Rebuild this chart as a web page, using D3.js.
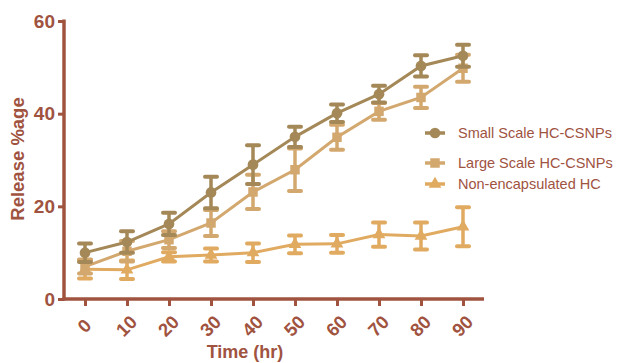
<!DOCTYPE html>
<html>
<head>
<meta charset="utf-8">
<script src="https://cdn.jsdelivr.net/npm/d3@7/dist/d3.min.js"></script>
<style>
  html, body { margin: 0; padding: 0; background: #fff; }
  svg { display: block; }
  text { font-family: "Liberation Sans", Arial, sans-serif; }
</style>
</head>
<body>
<svg id="chart" width="631" height="363"></svg>
<script>
const times = [0, 10, 20, 30, 40, 50, 60, 70, 80, 90];
const yTicks = [0, 20, 40, 60];
const seriesNames = ["Small Scale HC-CSNPs", "Large Scale HC-CSNPs", "Non-encapsulated HC"];
const smallMean = [10, 12.3, 16.2, 23, 29, 35, 40.1, 44.2, 50.3, 52.5];
const smallErr  = [2, 2.3, 2.4, 3.4, 4.2, 2.2, 1.9, 1.8, 2.3, 2.4];
const largeMean = [7, 10.3, 12.8, 16.4, 23.1, 27.9, 34.9, 40.5, 43.5, 49.8];
const largeErr  = [1.5, 2.2, 1.8, 2.8, 3.7, 4.6, 2.7, 1.8, 2.3, 2.9];
const nonMean   = [6.4, 6.3, 9.1, 9.5, 10, 11.8, 11.9, 13.9, 13.6, 15.6];
const nonErr    = [2, 2, 1, 1.4, 2, 1.9, 1.9, 2.6, 2.9, 4.2];

const axisColor = "#a0533f";
const colors = ["#a48857", "#d3a86f", "#e0aa60"];

const svg = d3.select("#chart");
const x = d3.scaleLinear().domain([-5, 95]).range([64, 484]);
const y = d3.scaleLinear().domain([0, 60]).range([299, 21]);

// Axes
const yAxis = d3.axisLeft(y).tickValues(yTicks).tickSize(6).tickPadding(3).tickSizeOuter(0);
const gy = svg.append("g").attr("transform", "translate(64,0)").call(yAxis);
gy.select(".domain").attr("stroke", axisColor).attr("stroke-width", 3.5).attr("d", `M0,${y(60)-1.5}V${y(0)+1.5}`);
gy.selectAll(".tick line").attr("stroke", axisColor).attr("stroke-width", 3);
gy.selectAll(".tick text").attr("fill", axisColor).attr("font-size", 19).attr("font-weight", "bold");

const xAxis = d3.axisBottom(x).tickValues(times).tickSize(7).tickSizeOuter(0).tickFormat(d3.format("d"));
const gx = svg.append("g").attr("transform", "translate(0,299)").call(xAxis);
gx.select(".domain").attr("stroke", axisColor).attr("stroke-width", 3.5).attr("d", `M${x(-5)-1.5},0H${x(95)}`);
gx.selectAll(".tick line").attr("stroke", axisColor).attr("stroke-width", 3);
gx.selectAll(".tick text")
  .attr("fill", axisColor).attr("font-size", 18.5).attr("font-weight", "bold")
  .attr("text-anchor", "middle").attr("dy", null).attr("y", null)
  .attr("transform", "translate(0,28) rotate(-45)").attr("dominant-baseline", "middle");

svg.append("text").attr("x", 245).attr("y", 358).attr("text-anchor", "middle")
  .attr("fill", axisColor).attr("font-size", 18).attr("font-weight", "bold").text("Time (hr)");
svg.append("text").attr("transform", "translate(24,159) rotate(-90)").attr("text-anchor", "middle")
  .attr("fill", axisColor).attr("font-size", 18.5).attr("font-weight", "bold").text("Release %age");

const data = [
  { name: seriesNames[0], mean: smallMean, err: smallErr, color: colors[0], shape: d3.symbolCircle, size: 90 },
  { name: seriesNames[1], mean: largeMean, err: largeErr, color: colors[1], shape: d3.symbolSquare, size: 90 },
  { name: seriesNames[2], mean: nonMean,   err: nonErr,   color: colors[2], shape: d3.symbolTriangle, size: 70 }
];

const line = d3.line().x((d, i) => x(times[i])).y(d => y(d));

const drawOrder = [2, 1, 0];
drawOrder.forEach(si => {
  const s = data[si];
  const g = svg.append("g");
  g.append("path").attr("d", line(s.mean)).attr("fill", "none").attr("stroke", s.color).attr("stroke-width", 3);
  times.forEach((t, i) => {
    const cx = x(t), top = y(s.mean[i] + s.err[i]), bot = y(s.mean[i] - s.err[i]);
    g.append("line").attr("x1", cx).attr("x2", cx).attr("y1", top).attr("y2", bot)
      .attr("stroke", s.color).attr("stroke-width", 3.5);
    [top, bot].forEach(yy => g.append("line").attr("x1", cx - 6).attr("x2", cx + 6).attr("y1", yy).attr("y2", yy)
      .attr("stroke", s.color).attr("stroke-width", 4).attr("stroke-linecap", "round"));
    g.append("path").attr("d", d3.symbol().type(s.shape).size(s.size)())
      .attr("transform", `translate(${cx},${y(s.mean[i])})`).attr("fill", s.color);
  });
});

// Legend
const legendY = [133, 163, 184];
data.forEach((s, i) => {
  const g = svg.append("g").attr("transform", `translate(435,${legendY[i]})`);
  g.append("line").attr("x1", -10).attr("x2", 10).attr("stroke", s.color).attr("stroke-width", 3.5);
  g.append("path").attr("d", d3.symbol().type(s.shape).size(s.size)()).attr("fill", s.color);
  g.append("text").attr("x", 23).attr("y", 0).attr("dominant-baseline", "central")
    .attr("fill", axisColor).attr("font-size", 14.5).text(s.name);
});
</script>
</body>
</html>
